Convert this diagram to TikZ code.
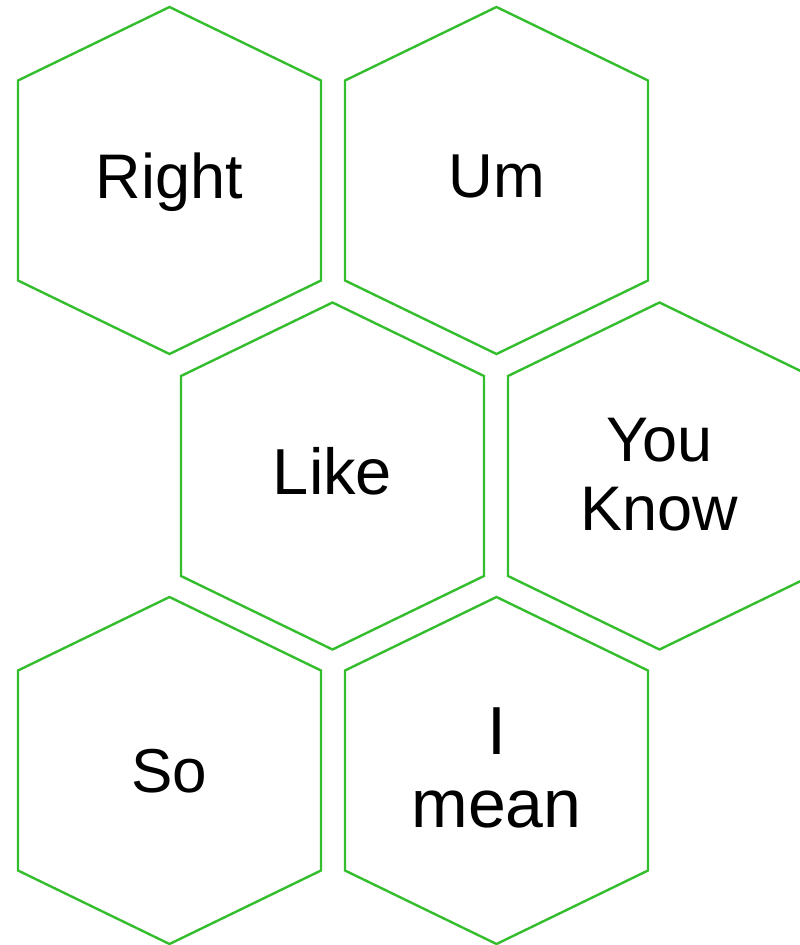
\documentclass[tikz,border=0pt]{standalone}
\usepackage{fontspec}
\setmainfont{Liberation Sans}
\definecolor{hexgreen}{RGB}{52,190,46}
\begin{document}
\begin{tikzpicture}[x=1pt,y=-1pt,
  hexline/.style={draw=hexgreen,line width=2.4pt,line join=miter,fill=white},
  word/.style={font=\fontsize{62}{69}\selectfont,align=center,inner sep=0pt,text=black},
  hexcell/.pic={\path[hexline] (0,-173.5) -- (151.5,-100) -- (151.5,100) -- (0,173.5) -- (-151.5,100) -- (-151.5,-100) -- cycle;}]
\useasboundingbox (0,0) rectangle (800,945);
\fill[white] (0,0) rectangle (800,945);
\clip (0,0) rectangle (800,945);
\pic at (169.5,180.5) {hexcell};
\pic at (496.5,180.5) {hexcell};
\pic at (332.5,476) {hexcell};
\pic at (659.5,476) {hexcell};
\pic at (169.5,770.5) {hexcell};
\pic at (496.5,770.5) {hexcell};
\node[word,anchor=base,font=\fontsize{63}{69}\selectfont] (right) at (169.5,198.5) {Right};
\node[word,anchor=base] (um) at (496.5,197.5) {Um};
\node[word,anchor=base,font=\fontsize{65}{69}\selectfont] (like) at (332.5,494) {Like};
\node[word,anchor=north,font=\fontsize{63}{69}\selectfont] (youknow) at (659.5,417.5) {You\\Know};
\node[word,anchor=base] (so) at (169.5,792) {So};
\node[word,anchor=north,font=\fontsize{68}{73}\selectfont] (imean) at (496.5,708) {I\\mean};
\end{tikzpicture}
\end{document}
